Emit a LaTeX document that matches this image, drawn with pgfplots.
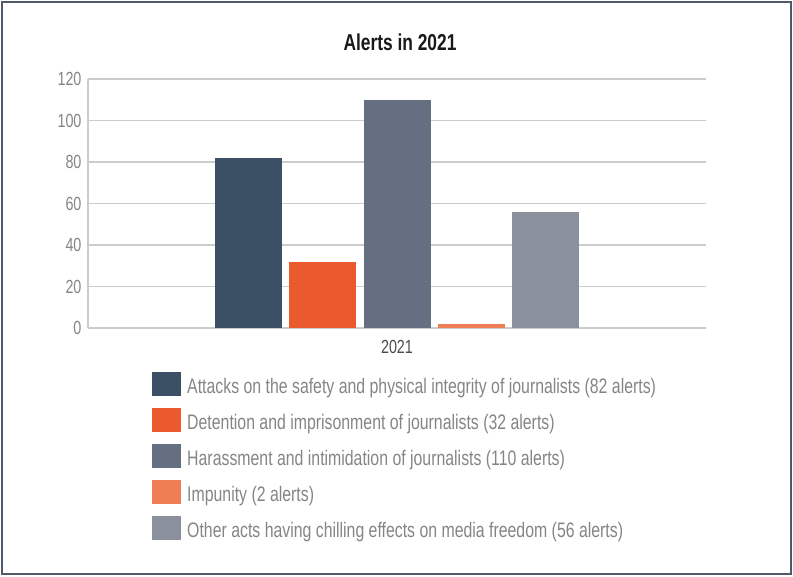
\documentclass[border=0pt]{standalone}
\usepackage{pgfplots}
\pgfplotsset{compat=1.18}
\usepackage{fontspec}
\setmainfont{Liberation Sans}[FakeStretch=0.755]
\definecolor{c1}{HTML}{3B4F65}
\definecolor{c2}{HTML}{EA5A2E}
\definecolor{c3}{HTML}{666E82}
\definecolor{c4}{HTML}{EF7E54}
\definecolor{c5}{HTML}{8A909C}
\definecolor{framec}{HTML}{4E5A6A}
\definecolor{gridc}{HTML}{CCCCCC}
\definecolor{txtc}{HTML}{858585}
\pgfplotsset{sq/.style={legend image code/.code={\fill[##1] (0pt,-7pt) rectangle (29pt,17pt);}}}
\begin{document}
\begin{tikzpicture}[x=1pt,y=1pt]
\useasboundingbox (0,0) rectangle (793,576);
\draw[framec, line width=2pt] (2,2) rectangle (791,574);
\node[font=\bfseries\fontsize{23}{26}\selectfont, text=black!90] at (400,534) {Alerts in 2021};
\begin{axis}[
  at={(88pt,248pt)}, anchor=south west,
  scale only axis, width=618pt, height=249pt,
  ybar=7.2pt, bar width=67pt,
  xmin=-1, xmax=1, ymin=0, ymax=120,
  ytick={0,20,...,120}, xtick={0}, xticklabels={2021},
  ymajorgrids, grid style={line width=1.5pt, gridc},
  axis x line*=bottom, axis y line*=left,
  axis line style={line width=1.5pt, gridc, -},
  major tick length=0pt,
  /pgf/number format/assume math mode=true,
  yticklabel style={font=\fontsize{19}{21}\selectfont, text=txtc, xshift=-3pt},
  xticklabel style={font=\fontsize{19}{21}\selectfont, text=black!70, yshift=-9pt},
  legend style={at={(0.1036,-0.175)}, anchor=north west, draw=none, fill=none,
    font=\fontsize{21}{23}\selectfont, text=txtc, row sep=5pt, inner sep=0pt,
    nodes={text height=17pt, text depth=7pt},
    cells={anchor=west}},
  legend cell align=left,
]
\addplot[fill=c1, draw=none, sq] coordinates {(0,82)};
\addplot[fill=c2, draw=none, sq] coordinates {(0,32)};
\addplot[fill=c3, draw=none, sq] coordinates {(0,110)};
\addplot[fill=c4, draw=none, sq] coordinates {(0,2)};
\addplot[fill=c5, draw=none, sq] coordinates {(0,56)};
\legend{\hspace{4pt}Attacks on the safety and physical integrity of journalists (82 alerts),
\hspace{4pt}Detention and imprisonment of journalists (32 alerts),
\hspace{4pt}Harassment and intimidation of journalists (110 alerts),
\hspace{4pt}Impunity (2 alerts),
\hspace{4pt}Other acts having chilling effects on media freedom (56 alerts)}
\end{axis}
\end{tikzpicture}
\end{document}
